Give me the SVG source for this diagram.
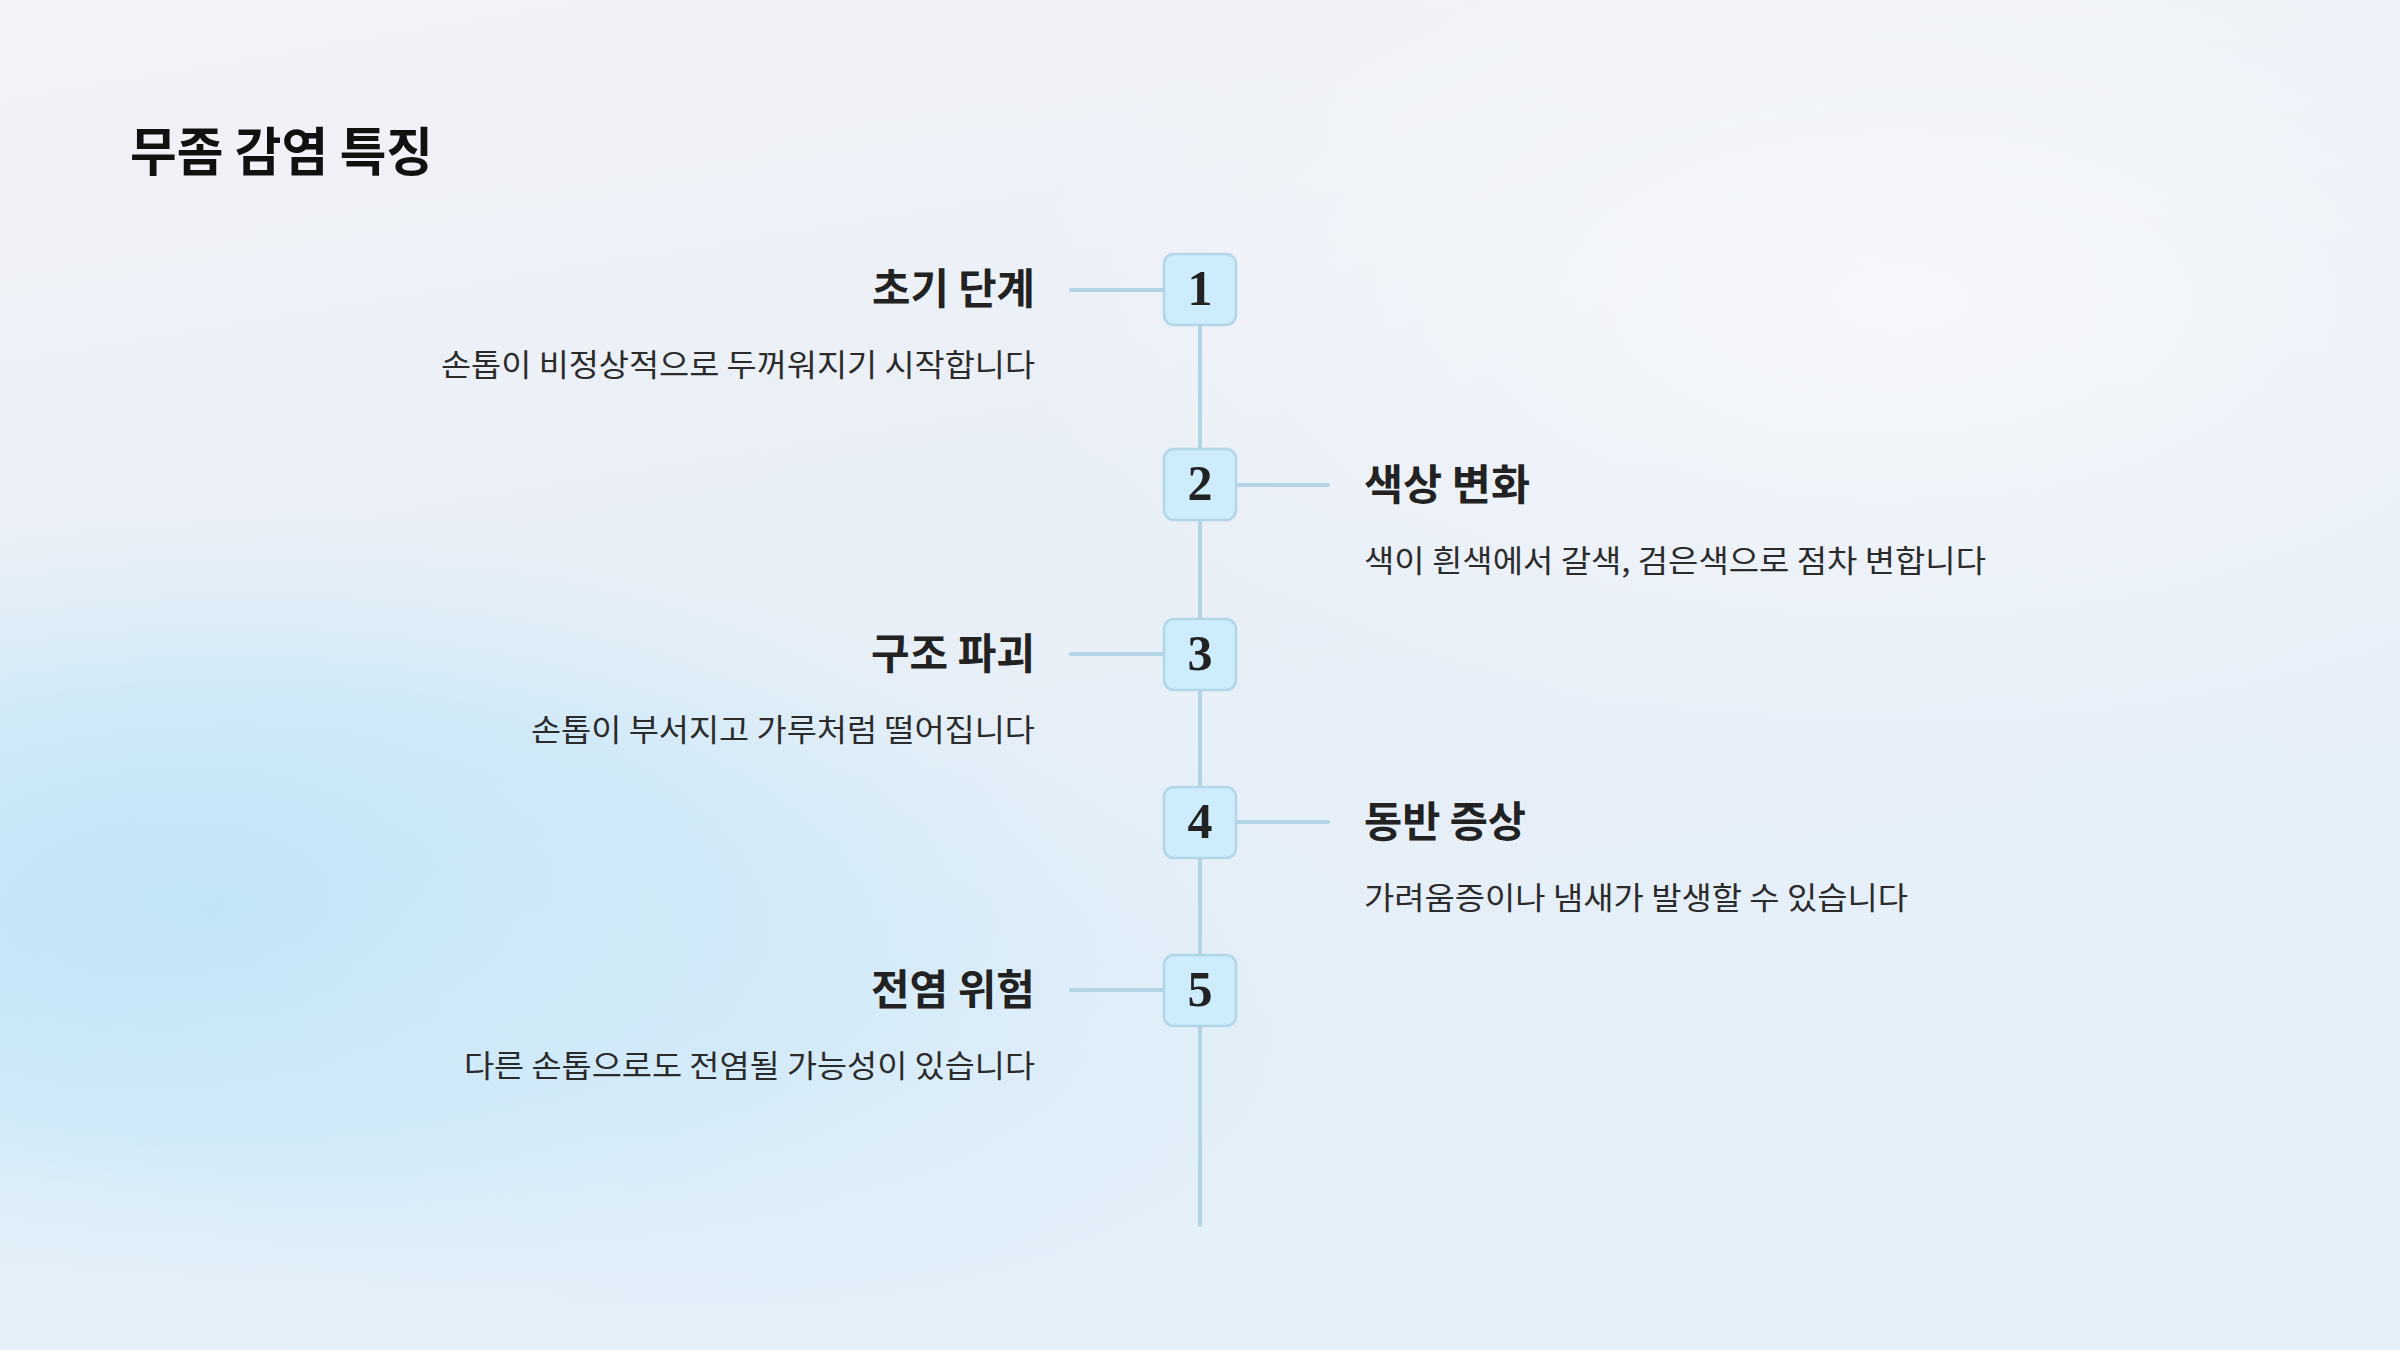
<svg xmlns="http://www.w3.org/2000/svg" width="2400" height="1350" viewBox="0 0 2400 1350">
  <defs>
    <linearGradient id="bg" x1="0" y1="0" x2="0.3" y2="1">
      <stop offset="0" stop-color="#f3f3f7"/>
      <stop offset="0.45" stop-color="#e9eff7"/>
      <stop offset="1" stop-color="#e4f0fa"/>
    </linearGradient>
    <radialGradient id="blob1" cx="0.5" cy="0.5" r="0.5">
      <stop offset="0" stop-color="#bde3f7" stop-opacity="1"/>
      <stop offset="0.55" stop-color="#c6e7f8" stop-opacity="0.7"/>
      <stop offset="1" stop-color="#d4ecf9" stop-opacity="0"/>
    </radialGradient>
    <radialGradient id="blob2" cx="0.5" cy="0.5" r="0.5">
      <stop offset="0" stop-color="#f7f8fb" stop-opacity="0.9"/>
      <stop offset="1" stop-color="#f7f8fb" stop-opacity="0"/>
    </radialGradient>
    <radialGradient id="blob3" cx="0.5" cy="0.5" r="0.5">
      <stop offset="0" stop-color="#d2eaf8" stop-opacity="0.8"/>
      <stop offset="1" stop-color="#d2eaf8" stop-opacity="0"/>
    </radialGradient>
    <style>
      .title { font-family: "Noto Sans CJK KR", "Noto Sans", sans-serif; font-weight: 700; font-size: 52px; fill: #111111; }
      .head { font-family: "Noto Sans CJK KR", "Noto Sans", sans-serif; font-weight: 700; font-size: 42px; fill: #222222; }
      .desc { font-family: "Noto Sans CJK KR", "Noto Sans", sans-serif; font-weight: 400; font-size: 31px; fill: #2b2b2b; }
      .num { font-family: "Liberation Serif", "DejaVu Serif", serif; font-weight: 700; font-size: 50px; fill: #222222; text-anchor: middle; }
      .box { fill: #cdedfc; stroke: #b3d6e7; stroke-width: 2.5; }
      .line { stroke: #b2d4e5; stroke-width: 4; stroke-linecap: round; fill: none; }
      .end { text-anchor: end; }
    </style>
  </defs>

  <rect x="0" y="0" width="2400" height="1350" fill="url(#bg)"/>
  <ellipse cx="230" cy="910" rx="900" ry="400" fill="url(#blob1)"/>
  <ellipse cx="700" cy="1010" rx="700" ry="340" fill="url(#blob3)"/>
  <ellipse cx="1900" cy="300" rx="900" ry="450" fill="url(#blob2)"/>

  <text id="title" class="title" x="130" y="171" textLength="303" lengthAdjust="spacingAndGlyphs">무좀 감염 특징</text>

  <g id="connectors">
    <line class="line" x1="1200" y1="290" x2="1200" y2="1225"/>
    <line class="line" x1="1071" y1="290" x2="1163" y2="290"/>
    <line class="line" x1="1237" y1="485" x2="1328" y2="485"/>
    <line class="line" x1="1071" y1="654" x2="1163" y2="654"/>
    <line class="line" x1="1237" y1="822" x2="1328" y2="822"/>
    <line class="line" x1="1071" y1="990" x2="1163" y2="990"/>
  </g>

  <g id="node1">
    <rect class="box" x="1164" y="254" width="72" height="71" rx="10"/>
    <text class="num" x="1200" y="305">1</text>
    <text class="head end" x="1035" y="304" textLength="163" lengthAdjust="spacingAndGlyphs">초기 단계</text>
    <text class="desc end" x="1035" y="376" textLength="594" lengthAdjust="spacingAndGlyphs">손톱이 비정상적으로 두꺼워지기 시작합니다</text>
  </g>

  <g id="node2">
    <rect class="box" x="1164" y="449" width="72" height="71" rx="10"/>
    <text class="num" x="1200" y="500">2</text>
    <text class="head" x="1364" y="500" textLength="166" lengthAdjust="spacingAndGlyphs">색상 변화</text>
    <text class="desc" x="1364" y="572" textLength="622" lengthAdjust="spacingAndGlyphs">색이 흰색에서 갈색, 검은색으로 점차 변합니다</text>
  </g>

  <g id="node3">
    <rect class="box" x="1164" y="619" width="72" height="71" rx="10"/>
    <text class="num" x="1200" y="670">3</text>
    <text class="head end" x="1035" y="669" textLength="164" lengthAdjust="spacingAndGlyphs">구조 파괴</text>
    <text class="desc end" x="1035" y="741" textLength="504" lengthAdjust="spacingAndGlyphs">손톱이 부서지고 가루처럼 떨어집니다</text>
  </g>

  <g id="node4">
    <rect class="box" x="1164" y="787" width="72" height="71" rx="10"/>
    <text class="num" x="1200" y="838">4</text>
    <text class="head" x="1364" y="837" textLength="162" lengthAdjust="spacingAndGlyphs">동반 증상</text>
    <text class="desc" x="1364" y="909" textLength="544" lengthAdjust="spacingAndGlyphs">가려움증이나 냄새가 발생할 수 있습니다</text>
  </g>

  <g id="node5">
    <rect class="box" x="1164" y="955" width="72" height="71" rx="10"/>
    <text class="num" x="1200" y="1006">5</text>
    <text class="head end" x="1035" y="1005" textLength="164" lengthAdjust="spacingAndGlyphs">전염 위험</text>
    <text class="desc end" x="1035" y="1077" textLength="571" lengthAdjust="spacingAndGlyphs">다른 손톱으로도 전염될 가능성이 있습니다</text>
  </g>
</svg>
